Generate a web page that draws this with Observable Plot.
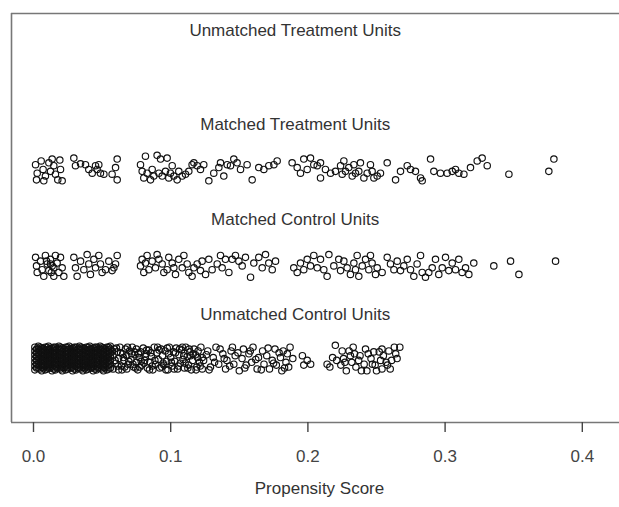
<!DOCTYPE html>
<html><head><meta charset="utf-8">
<script src="https://cdn.jsdelivr.net/npm/d3@7"></script>
<script src="https://cdn.jsdelivr.net/npm/@observablehq/plot@0.6"></script>
<style>html,body{margin:0;padding:0;background:#fff;overflow:hidden}</style>
</head><body><div id="chart"></div>
<script>
// Group labels and their row index (1 = bottom row)
const groupLabels = ["Unmatched Control Units", "Matched Control Units", "Matched Treatment Units", "Unmatched Treatment Units"];
const groupRows = [1, 2, 3, 4];
const xTicks = [0, 0.1, 0.2, 0.3, 0.4];
const axisTitle = "Propensity Score";

// [propensity score, vertical jitter] pairs
const unmatchedTreated = [];

const matchedTreated = [
[.0015,.05],[.0027,-.04],[.0022,-.11],[.0056,.09],[.0070,0],[.0087,-.07],[.0112,.07],[.0124,-.02],[.0136,.11],[.0148,.04],[.0160,-.05],[.0177,-.11],[.0192,.10],[.0197,0],[.0209,-.12],[.0075,-.12],
[.0294,.12],[.0306,.04],[.0343,.06],[.0379,.05],[.0403,0],[.0428,-.04],[.0452,.04],[.0476,.05],[.0488,-.04],[.0513,-.05],[.0573,-.05],[.0598,.02],[.0610,.11],[.0610,-.11],[.0464,0],
[.0780,.05],[.0792,-.02],[.0804,-.09],[.0816,.14],[.0828,-.04],[.0853,-.11],[.0865,0],[.0877,-.07],[.0901,.15],[.0914,-.04],[.0926,.11],[.0938,-.07],[.0962,-.02],[.0974,.12],[.0986,-.09],[.0998,-.04],[.1011,.04],[.1023,-.07],[.1047,-.11],[.1059,-.02],[.1084,-.07],[.1108,-.05],[.1132,-.02],[.1156,.05],[.1169,.07],[.1193,.04],[.1217,0],[.1241,.05],[.1278,-.12],[.1314,-.04],[.1351,.02],[.1363,.07],[.1387,-.07],[.1412,.05],[.1436,.04],[.1460,.11],[.1484,.07],[.1509,0],[.1557,.05],[.1594,-.11],[.1642,.02],[.1679,0],[.1715,.04],[.1752,.05],[.1776,.09],
[.1885,.07],[.1922,.02],[.1946,-.04],[.1970,.11],[.1995,0],[.2019,.12],[.2043,.05],[.2068,.04],
[.2092,.07],[.2092,-.09],[.2128,0],[.2165,-.04],[.2201,-.02],[.2238,.04],[.2250,-.05],[.2262,.09],[.2274,-.02],[.2298,.02],[.2323,-.07],[.2335,.05],[.2347,-.04],[.2371,-.02],[.2383,.07],[.2408,-.09],[.2432,-.04],[.2456,.05],[.2468,-.02],[.2481,-.09],[.2505,-.07],[.2529,-.04],[.2578,.07],[.2639,-.11],[.2675,-.02],[.2724,.04],[.2748,0],[.2784,-.02],[.2821,-.09],[.2833,-.12],[.2894,.11],[.2918,-.02],[.2966,-.04],[.3015,-.04],[.3052,-.02],[.3076,0],[.3100,-.04],[.3137,-.05],[.3185,.02],[.3234,.09],[.3270,.12],[.3307,.04],[.3465,-.05],[.3756,-.02],[.3793,.11]
];

const matchedControl = [
[.0015,.07],[.0022,-.02],[.0027,-.09],[.0051,.03],[.0063,-.06],[.0075,-.13],[.0087,.09],[.0100,0],[.0112,-.07],[.0124,.05],[.0136,-.02],[.0148,-.04],[.0160,.09],[.0172,.01],[.0185,-.09],[.0197,.07],[.0209,-.04],[.0221,-.13],[.0148,-.13],[.0124,0],[.0095,.03],[.0130,-.09],
[.0294,.07],[.0306,-.04],[.0318,-.13],[.0343,.03],[.0367,-.06],[.0391,.10],[.0403,0],[.0415,-.11],[.0440,.05],[.0452,-.04],[.0476,.09],[.0488,0],[.0500,-.09],[.0525,-.06],[.0549,.03],[.0573,-.07],[.0586,-.04],[.0598,0],[.0610,.09],
[.0780,-.02],[.0792,.05],[.0804,-.09],[.0816,.01],[.0828,.09],[.0841,-.06],[.0865,.03],[.0889,-.04],[.0901,.10],[.0914,.05],[.0938,0],[.0950,-.09],[.0974,-.06],[.0986,.07],[.1011,.01],[.1023,-.04],[.1035,-.11],[.1059,.05],[.1084,-.04],[.1096,.09],[.1120,0],[.1132,-.09],[.1156,-.13],[.1169,-.04],[.1193,0],[.1217,-.07],[.1229,.03],[.1254,-.11],[.1278,.05],[.1302,-.06],[.1339,0],[.1363,.09],[.1375,-.04],[.1399,.05],[.1424,-.09],[.1448,.05],[.1472,.09],[.1497,.03],[.1521,-.02],[.1545,.07],[.1582,-.14],[.1606,.01],[.1642,.07],[.1667,-.04],[.1691,.10],[.1715,.01],[.1740,-.06],[.1764,.03],
[.1897,-.04],[.1922,-.09],[.1946,.01],[.1970,-.06],[.1995,.05],[.2019,-.02],[.2043,.09],[.2068,-.04],
[.2092,.05],[.2116,-.06],[.2140,-.13],[.2153,.10],[.2189,-.02],[.2225,.05],[.2238,-.07],[.2262,.03],[.2286,-.04],[.2310,-.11],[.2335,.01],[.2347,-.06],[.2359,.09],[.2371,-.13],[.2396,-.02],[.2420,.05],[.2444,-.06],[.2456,.09],[.2468,.01],[.2493,-.11],[.2505,-.04],[.2541,-.09],[.2578,.07],[.2602,0],[.2627,-.06],[.2651,.03],[.2675,-.07],[.2699,-.02],[.2724,.05],[.2748,-.06],[.2772,-.13],[.2796,0],[.2821,.09],[.2833,-.09],[.2857,-.14],[.2881,-.09],[.2906,-.04],[.2930,.05],[.2954,-.11],[.2979,-.04],[.3003,.07],[.3027,-.07],[.3052,.01],[.3076,-.06],[.3100,.05],[.3124,-.09],[.3149,-.04],[.3173,-.11],[.3209,.01],[.3355,-.02],[.3477,.03],[.3538,-.11],[.3805,.03]
];

// very dense low-score block of unmatched controls (solid black in the picture)
const unmatchedControlBlock = [
[.001,-.12],[.001,-.08],[.001,-.04],[.001,0],[.001,.04],[.001,.08],[.001,.12],
[.00225,-.10],[.00225,-.06],[.00225,-.02],[.00225,.02],[.00225,.06],[.00225,.10],
[.0035,-.10],[.0035,-.06],[.0035,-.02],[.0035,.02],[.0035,.06],[.0035,.10],[.0035,.13],
[.00475,-.11],[.00475,-.07],[.00475,-.03],[.00475,.01],[.00475,.05],[.00475,.09],[.00475,.12],
[.006,-.13],[.006,-.09],[.006,-.05],[.006,-.01],[.006,.03],[.006,.07],[.006,.11],
[.00725,-.10],[.00725,-.06],[.00725,-.02],[.00725,.02],[.00725,.06],[.00725,.10],
[.0085,-.12],[.0085,-.08],[.0085,-.04],[.0085,0],[.0085,.04],[.0085,.08],[.0085,.12],
[.00975,-.11],[.00975,-.07],[.00975,-.03],[.00975,.01],[.00975,.05],[.00975,.09],[.00975,.12],
[.011,-.10],[.011,-.06],[.011,-.02],[.011,.02],[.011,.06],[.011,.10],[.011,.13],
[.01225,-.10],[.01225,-.06],[.01225,-.02],[.01225,.02],[.01225,.06],[.01225,.10],
[.0135,-.13],[.0135,-.09],[.0135,-.05],[.0135,-.01],[.0135,.03],[.0135,.07],[.0135,.11],
[.01475,-.11],[.01475,-.07],[.01475,-.03],[.01475,.01],[.01475,.05],[.01475,.09],[.01475,.12],
[.016,-.12],[.016,-.08],[.016,-.04],[.016,0],[.016,.04],[.016,.08],[.016,.12],
[.01725,-.10],[.01725,-.06],[.01725,-.02],[.01725,.02],[.01725,.06],[.01725,.10],
[.0185,-.10],[.0185,-.06],[.0185,-.02],[.0185,.02],[.0185,.06],[.0185,.10],[.0185,.13],
[.01975,-.11],[.01975,-.07],[.01975,-.03],[.01975,.01],[.01975,.05],[.01975,.09],[.01975,.12],
[.021,-.13],[.021,-.09],[.021,-.05],[.021,-.01],[.021,.03],[.021,.07],[.021,.11],
[.02225,-.10],[.02225,-.06],[.02225,-.02],[.02225,.02],[.02225,.06],[.02225,.10],
[.0235,-.12],[.0235,-.08],[.0235,-.04],[.0235,0],[.0235,.04],[.0235,.08],[.0235,.12],
[.02475,-.11],[.02475,-.07],[.02475,-.03],[.02475,.01],[.02475,.05],[.02475,.09],[.02475,.12],
[.026,-.10],[.026,-.06],[.026,-.02],[.026,.02],[.026,.06],[.026,.10],[.026,.13],
[.02725,-.10],[.02725,-.06],[.02725,-.02],[.02725,.02],[.02725,.06],[.02725,.10],
[.0285,-.13],[.0285,-.09],[.0285,-.05],[.0285,-.01],[.0285,.03],[.0285,.07],[.0285,.11],
[.02975,-.11],[.02975,-.07],[.02975,-.03],[.02975,.01],[.02975,.05],[.02975,.09],[.02975,.12],
[.031,-.12],[.031,-.08],[.031,-.04],[.031,0],[.031,.04],[.031,.08],[.031,.12],
[.03225,-.10],[.03225,-.06],[.03225,-.02],[.03225,.02],[.03225,.06],[.03225,.10],
[.0335,-.10],[.0335,-.06],[.0335,-.02],[.0335,.02],[.0335,.06],[.0335,.10],[.0335,.13],
[.03475,-.11],[.03475,-.07],[.03475,-.03],[.03475,.01],[.03475,.05],[.03475,.09],[.03475,.12],
[.036,-.13],[.036,-.09],[.036,-.05],[.036,-.01],[.036,.03],[.036,.07],[.036,.11],
[.03725,-.10],[.03725,-.06],[.03725,-.02],[.03725,.02],[.03725,.06],[.03725,.10],
[.0385,-.12],[.0385,-.08],[.0385,-.04],[.0385,0],[.0385,.04],[.0385,.08],[.0385,.12],
[.03975,-.11],[.03975,-.07],[.03975,-.03],[.03975,.01],[.03975,.05],[.03975,.09],[.03975,.12],
[.041,-.10],[.041,-.06],[.041,-.02],[.041,.02],[.041,.06],[.041,.10],[.041,.13],
[.04225,-.10],[.04225,-.06],[.04225,-.02],[.04225,.02],[.04225,.06],[.04225,.10],
[.0435,-.13],[.0435,-.09],[.0435,-.05],[.0435,-.01],[.0435,.03],[.0435,.07],[.0435,.11],
[.04475,-.11],[.04475,-.07],[.04475,-.03],[.04475,.01],[.04475,.05],[.04475,.09],[.04475,.12],
[.046,-.12],[.046,-.08],[.046,-.04],[.046,0],[.046,.04],[.046,.08],[.046,.12],
[.04725,-.10],[.04725,-.06],[.04725,-.02],[.04725,.02],[.04725,.06],[.04725,.10],
[.0485,-.10],[.0485,-.06],[.0485,-.02],[.0485,.02],[.0485,.06],[.0485,.10],[.0485,.13],
[.04975,-.11],[.04975,-.07],[.04975,-.03],[.04975,.01],[.04975,.05],[.04975,.09],[.04975,.12],
[.051,-.13],[.051,-.09],[.051,-.05],[.051,-.01],[.051,.03],[.051,.07],[.051,.11],
[.05225,-.10],[.05225,-.06],[.05225,-.02],[.05225,.02],[.05225,.06],[.05225,.10],
[.0535,-.12],[.0535,-.08],[.0535,-.04],[.0535,0],[.0535,.04],[.0535,.08],[.0535,.12],
[.05475,-.11],[.05475,-.07],[.05475,-.03],[.05475,.01],[.05475,.05],[.05475,.09],[.05475,.12],
[.056,-.10],[.056,-.06],[.056,-.02],[.056,.02],[.056,.06],[.056,.10],[.056,.13]
];

const unmatchedControl = [
[.058,-.11],[.058,.03],[.059,.10],[.060,-.05],[.061,.07],[.062,-.12],[.062,0],[.063,.12],[.064,-.08],[.065,.05],[.066,-.02],[.067,.10],[.068,-.11],[.068,.03],[.069,-.06],[.070,.08],[.071,-.01],[.072,.12],[.073,-.09],[.074,.04],[.075,-.04],[.075,.10],[.076,-.12],[.077,.01],[.078,.07],[.079,-.07],[.080,.11],[.081,-.02],[.082,.05],[.083,-.10],[.084,.09],[.085,-.04],[.086,.02],[.087,-.12],[.088,.12],[.089,-.06],[.090,.06],[.091,-.01],[.092,-.10],[.093,.10],[.094,.03],[.095,-.07],[.096,.08],[.097,-.03],[.098,-.12],[.099,.12],[.100,.01],[.101,-.08],[.102,.07],[.103,-.03],[.104,.11],[.105,-.11],[.106,.04],[.107,-.05],[.108,.09],[.109,-.01],[.110,-.10],[.111,.12],[.112,.02],[.113,-.07],[.114,.07],[.115,-.12],[.116,-.02],[.117,.10],[.118,.04],[.119,-.09],[.120,.08],[.121,-.04],[.122,.12],[.123,-.11],[.123,.01],
[.0595,-.02],[.0635,.06],[.0665,-.09],[.0715,.05],[.0745,-.10],[.0785,-.03],[.0825,.09],[.0865,-.08],[.0905,.12],[.0945,-.05],[.0985,.05],[.1025,-.11],[.1065,.10],[.1105,-.05],[.1145,.03],[.1185,-.12],
[.0575,.08],[.0605,.11],[.0615,-.08],[.0645,-.12],[.0655,.01],[.0685,.12],[.0695,-.03],[.0725,-.06],[.0735,.07],[.0765,.05],[.0775,-.09],[.0805,-.05],[.0815,.02],[.0845,-.12],[.0855,.06],[.0885,-.02],[.0915,.09],[.0935,-.09],[.0965,-.12],[.0975,.11],[.1005,-.04],[.1035,.06],[.1055,-.08],[.1085,.12],[.1095,.03],[.1125,-.10],[.1135,.10],[.1165,.05],[.1195,.01],[.1215,-.08],
[.124,-.02],[.127,.08],[.129,-.09],[.131,.01],[.133,.12],[.135,-.06],[.138,.05],[.140,-.11],[.141,-.02],[.144,.08],[.146,-.06],[.147,.03],[.150,-.13],[.152,0],[.153,.10],[.155,-.07],[.157,.05],[.159,-.04],[.160,.12],[.163,-.11],[.164,.01],[.167,.08],[.168,-.06],[.170,.03],[.172,-.11],[.174,-.02],[.176,.10],[.177,-.07],[.180,.01],[.181,-.13],[.182,.08],[.184,-.04],[.185,.05],[.186,-.09],[.187,.12],[.189,0],
[.126,.04],[.128,-.12],[.132,-.04],[.136,.10],[.139,0],[.143,-.08],[.145,.12],[.149,.06],[.154,-.10],[.158,.08],[.162,-.01],[.166,-.12],[.171,.11],[.175,-.05],[.179,.06],[.183,-.10],
[.196,.03],[.1995,-.02],[.202,-.06],[.197,-.07],
[.214,-.06],[.216,-.09],[.218,.01],[.220,.14],[.221,-.02],[.224,-.07],[.225,.08],[.226,0],[.227,-.04],[.228,-.13],[.230,.08],[.231,.03],[.232,-.04],[.233,.12],[.234,.05],[.235,-.09],[.237,-.02],[.238,.03],[.239,-.13],[.241,-.06],[.242,.10],[.243,-.13],[.244,.05],[.246,0],[.247,-.06],[.248,.07],[.249,-.07],[.250,-.13],[.252,.07],[.253,-.02],[.254,.10],[.254,-.11],[.255,.03],[.257,-.04],[.258,-.07],[.259,.08],[.260,-.11],[.261,-.02],[.263,.12],[.264,.05],[.265,0],[.267,.12]
];

const groups = [unmatchedControlBlock.concat(unmatchedControl), matchedControl, matchedTreated, unmatchedTreated];

const points = groups.flatMap((g, i) => g.map(([s, j]) => ({score: s, y: groupRows[i] + j})));
const ext = d3.extent(points, d => d.score);
const labelX = (ext[0] + ext[1]) / 2;
const labels = groupLabels.map((t, i) => ({label: t, y: groupRows[i] + 0.47}));

const font = "'Liberation Sans', Arial, sans-serif";
const chart = Plot.plot({
  width: 619, height: 507,
  marginLeft: 11, marginRight: 0, marginTop: 13, marginBottom: 85,
  style: {fontFamily: font, background: "#fff", overflow: "visible"},
  x: {domain: [-0.01603, 0.42711]},
  y: {domain: [0.323, 4.65], axis: null},
  marks: [
    Plot.ruleY([0.323], {stroke: "#777", strokeWidth: 1.6}),
    Plot.ruleY([4.65], {stroke: "#777", strokeWidth: 1.6}),
    Plot.ruleX([-0.01603], {stroke: "#777", strokeWidth: 1.6}),
    Plot.axisX({ticks: xTicks, tickFormat: d3.format(".1f"), tickSize: 10, tickPadding: 17, fontSize: 17, color: "#444", strokeWidth: 1.4, label: null}),
    Plot.dot(points, {x: "score", y: "y", r: 3.2, stroke: "#111", strokeWidth: 1.15, fill: "none"}),
    Plot.text(labels, {x: () => labelX, y: "y", text: "label", fontSize: 17, fill: "#333"}),
    Plot.text([axisTitle], {text: d => d, frameAnchor: "bottom", dy: 71, dx: 4, fontSize: 17, fill: "#333"})
  ]
});
document.getElementById("chart").appendChild(chart);
</script>
</body></html>
